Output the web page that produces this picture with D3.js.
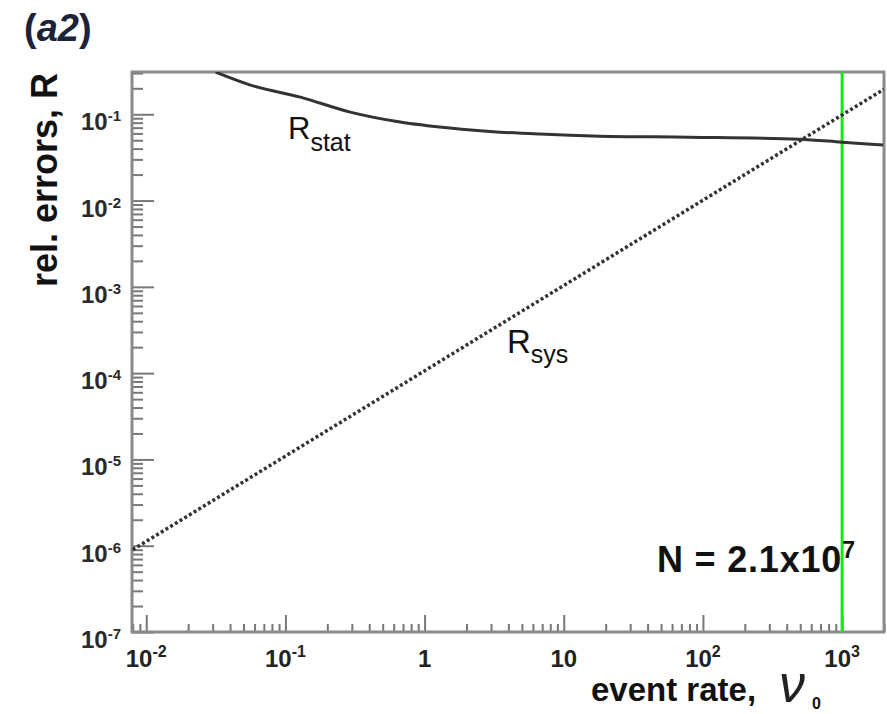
<!DOCTYPE html>
<html>
<head>
<meta charset="utf-8">
<script src="https://cdn.jsdelivr.net/npm/d3@7"></script>
<style>
  body { margin: 0; background: #fff; }
  text { font-family: "Liberation Sans", Arial, sans-serif; }
</style>
</head>
<body>
<div id="chart"></div>
<script>
// data
var statNu = [0.0315, 0.0561, 0.128, 0.292, 0.667, 1.52, 3.48, 6.7, 18.1, 80, 492, 1000, 1970];
var statR  = [0.308, 0.218, 0.158, 0.106, 0.0813, 0.0692, 0.0621, 0.0589, 0.0558, 0.0543, 0.0515, 0.0475, 0.044];
var sysNu = [0.008, 2000];
var sysR  = [9e-7, 0.195];
var nuMark = 1000; // green line

var xLabelVals = [0.01, 0.1, 1, 10, 100, 1000],
    xLabelBase = ["10", "10", "1", "10", "10", "10"],
    xLabelExp  = ["-2", "-1", "", "", "2", "3"];
var yLabelVals = [1e-7, 1e-6, 1e-5, 1e-4, 1e-3, 1e-2, 1e-1],
    yLabelExp  = ["-7", "-6", "-5", "-4", "-3", "-2", "-1"];

var width = 887, height = 714;
var margin = {top: 72, right: 3, bottom: 82, left: 132};

var x = d3.scaleLog()
    .domain([0.0079, 2000])
    .range([margin.left, width - margin.right]);

var y = d3.scaleLog()
    .domain([1e-7, 0.309])
    .range([height - margin.bottom, margin.top]);

var svg = d3.select("#chart").append("svg")
    .attr("width", width)
    .attr("height", height);

svg.append("clipPath").attr("id", "plot")
  .append("rect")
    .attr("x", margin.left).attr("y", margin.top)
    .attr("width", width - margin.left - margin.right)
    .attr("height", height - margin.top - margin.bottom);

function isMajor(v) {
    var l = Math.log10(v);
    return Math.abs(l - Math.round(l)) < 1e-9;
}

var yTicks = y.ticks(),
    xTicks = x.ticks();

// y axis ticks, pointing inward
svg.append("g")
    .attr("transform", "translate(" + margin.left + ",0)")
    .call(d3.axisLeft(y).tickValues(yTicks.filter(function(d) { return !isMajor(d); })).tickSize(-11).tickFormat(""))
    .call(function(g) { g.select(".domain").remove(); });
svg.append("g")
    .attr("transform", "translate(" + margin.left + ",0)")
    .call(d3.axisLeft(y).tickValues(yTicks.filter(isMajor)).tickSize(-22).tickFormat(""))
    .call(function(g) { g.select(".domain").remove(); });

// x axis ticks
svg.append("g")
    .attr("transform", "translate(0," + (height - margin.bottom) + ")")
    .call(d3.axisBottom(x).tickValues(xTicks.filter(function(d) { return !isMajor(d); })).tickSize(-8).tickFormat(""))
    .call(function(g) { g.select(".domain").remove(); });
svg.append("g")
    .attr("transform", "translate(0," + (height - margin.bottom) + ")")
    .call(d3.axisBottom(x).tickValues(xTicks.filter(isMajor)).tickSize(-17).tickFormat(""))
    .call(function(g) { g.select(".domain").remove(); });

svg.selectAll(".tick line").attr("stroke", "#777").attr("stroke-width", 2);

// frame
svg.append("rect")
    .attr("x", margin.left).attr("y", margin.top)
    .attr("width", width - margin.left - margin.right)
    .attr("height", height - margin.top - margin.bottom)
    .attr("fill", "none")
    .attr("stroke", "#8a8a8a")
    .attr("stroke-width", 3);

// y tick labels
var yl = svg.selectAll(".ylab").data(yLabelVals).enter().append("text")
    .attr("class", "ylab")
    .attr("x", 121)
    .attr("y", function(d) { return y(d) + 16; })
    .attr("text-anchor", "end")
    .attr("font-size", 24)
    .attr("font-weight", "bold")
    .attr("fill", "#2a2a2a");
yl.append("tspan").text("10");
yl.append("tspan").attr("font-size", 15).attr("dy", -9).text(function(d, i) { return yLabelExp[i]; });

// x tick labels
var xl = svg.selectAll(".xlab").data(xLabelVals).enter().append("text")
    .attr("class", "xlab")
    .attr("x", function(d) { return x(d); })
    .attr("y", height - margin.bottom + 35)
    .attr("text-anchor", "middle")
    .attr("font-size", 24)
    .attr("font-weight", "bold")
    .attr("fill", "#222");
xl.append("tspan").text(function(d, i) { return xLabelBase[i]; });
xl.append("tspan").attr("font-size", 16).attr("dy", -10).text(function(d, i) { return xLabelExp[i]; });

var plot = svg.append("g").attr("clip-path", "url(#plot)");

// green marker line
plot.append("line")
    .attr("x1", x(nuMark)).attr("x2", x(nuMark))
    .attr("y1", margin.top).attr("y2", height - margin.bottom)
    .attr("stroke", "#19e619")
    .attr("stroke-width", 3);

var line = d3.line()
    .x(function(d) { return x(d[0]); })
    .y(function(d) { return y(d[1]); })
    .curve(d3.curveMonotoneX);

plot.append("path")
    .datum(d3.zip(statNu, statR))
    .attr("d", line)
    .attr("fill", "none")
    .attr("stroke", "#333")
    .attr("stroke-width", 3);

plot.append("path")
    .datum(d3.zip(sysNu, sysR))
    .attr("d", d3.line().x(function(d) { return x(d[0]); }).y(function(d) { return y(d[1]); }))
    .attr("fill", "none")
    .attr("stroke", "#333")
    .attr("stroke-width", 3.5)
    .attr("stroke-dasharray", "3,2.5");

// curve labels
var ls = svg.append("text").attr("x", 288).attr("y", 139).attr("font-size", 31).attr("fill", "#111");
ls.append("tspan").text("R");
ls.append("tspan").attr("font-size", 25).attr("dy", 12).text("stat");

var ly = svg.append("text").attr("x", 507).attr("y", 353).attr("font-size", 33).attr("fill", "#111");
ly.append("tspan").text("R");
ly.append("tspan").attr("font-size", 25).attr("dy", 10).text("sys");

// N label
var nl = svg.append("text").attr("x", 657).attr("y", 572)
    .attr("font-size", 36).attr("font-weight", "bold").attr("letter-spacing", 0.8).attr("fill", "#111");
nl.append("tspan").text("N = 2.1x10");
nl.append("tspan").attr("font-size", 23).attr("dy", -14).text("7");

// panel tag
var tag = svg.append("text").attr("x", 24).attr("y", 41)
    .attr("font-size", 38).attr("font-weight", "bold").attr("fill", "#1c2238");
tag.append("tspan").text("(");
tag.append("tspan").attr("font-style", "italic").text("a2");
tag.append("tspan").text(")");

// axis titles
svg.append("text")
    .attr("transform", "translate(57,73) rotate(-90)")
    .attr("text-anchor", "end")
    .attr("font-size", 36)
    .attr("font-weight", "bold")
    .attr("fill", "#111")
    .text("rel. errors, R");

svg.append("text")
    .attr("x", 591).attr("y", 701)
    .attr("font-size", 33)
    .attr("font-weight", "bold")
    .attr("fill", "#111")
    .text("event rate,");

svg.append("text")
    .attr("x", 779).attr("y", 702)
    .attr("font-size", 52)
    .attr("font-style", "italic")
    .attr("font-family", "'DejaVu Serif', serif")
    .attr("fill", "#222")
    .text("ν");

svg.append("text")
    .attr("x", 812).attr("y", 709)
    .attr("font-size", 16)
    .attr("font-weight", "bold")
    .attr("fill", "#111")
    .text("0");
</script>
</body>
</html>
